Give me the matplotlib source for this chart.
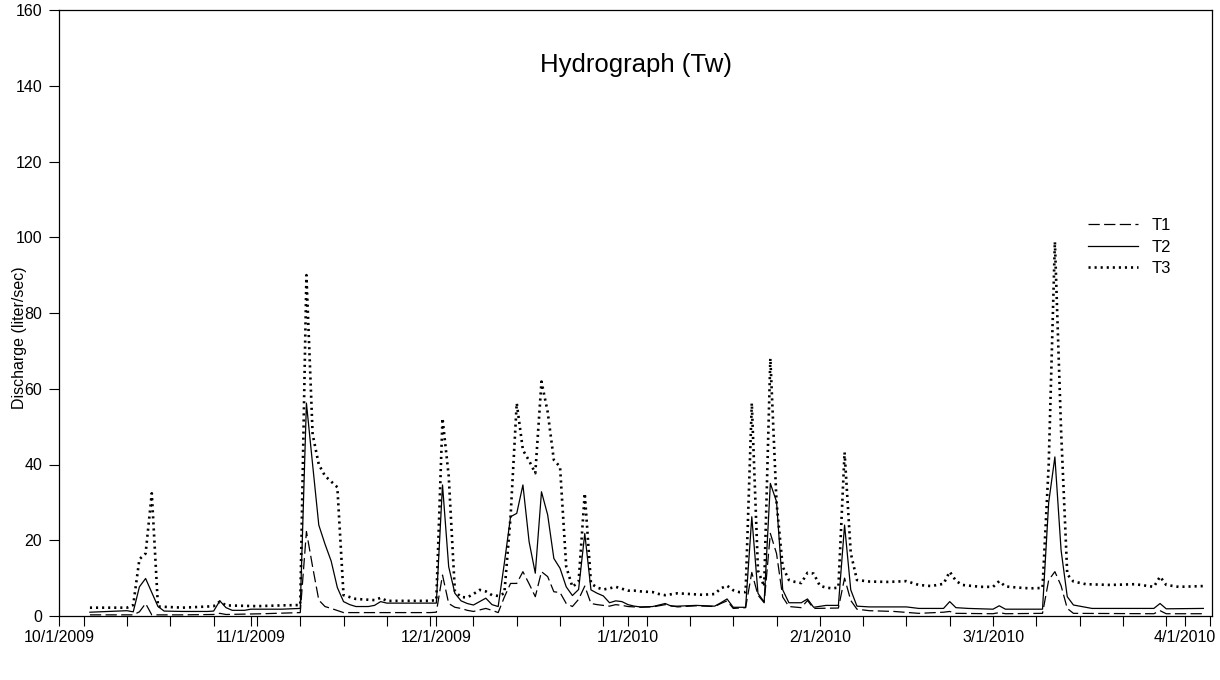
import matplotlib
matplotlib.use("Agg")
import matplotlib.pyplot as plt
import matplotlib.dates as mdates
import pandas as pd

plt.rcParams['font.family'] = ['Liberation Sans', 'DejaVu Sans']

START = pd.Timestamp('2009-10-01')

# Day offsets from 10/1/2009 and discharge values (liter/sec)
t1_days = [5, 12, 13, 14, 15, 20, 25, 26, 27, 33, 39, 40, 41, 42, 43, 44, 46, 60, 61, 62, 63, 64,
           65, 66, 67, 68, 69, 70, 71, 72, 73, 74, 75, 76, 77, 78, 79, 80, 81, 82, 83, 84, 85, 86,
           87, 88, 89, 90, 91, 92, 94, 96, 98, 100, 103, 106, 107, 108, 109, 111, 112, 113, 114,
           115, 116, 117, 118, 120, 121, 122, 126, 127, 128, 129, 131, 135, 139, 143, 144, 145,
           151, 152, 153, 159, 160, 161, 162, 163, 164, 177, 178, 179, 185]
t1_vals = [0.3, 0.3, 1.1, 3.3, 0.3, 0.3, 0.4, 0.7, 0.4, 0.6, 0.9, 22.3, 13.0, 4.2, 2.5, 2.0, 0.9,
           0.9, 1.0, 10.8, 3.3, 2.3, 2.0, 1.5, 1.2, 1.6, 2.0, 1.5, 0.9, 5.0, 8.6, 8.6, 11.7, 8.5,
           5.1, 11.7, 10.4, 6.4, 6.2, 3.3, 2.5, 4.4, 7.9, 3.3, 3.0, 2.8, 2.6, 3.0, 2.8, 2.5, 2.3,
           2.4, 3.0, 2.4, 2.7, 2.5, 3.3, 4.0, 2.0, 2.2, 11.5, 5.5, 3.5, 21.8, 16.5, 5.0, 2.5, 2.2,
           4.1, 2.0, 2.1, 10.0, 4.1, 1.8, 1.4, 1.2, 0.7, 1.0, 1.2, 0.7, 0.6, 0.9, 0.6, 0.7, 9.5,
           11.7, 8.0, 2.0, 0.7, 0.6, 1.4, 0.6, 0.6]

t2_days = [5, 11, 12, 13, 14, 15, 16, 17, 20, 24, 25, 26, 27, 28, 30, 31, 33, 36, 39, 40, 41, 42,
           43, 44, 45, 46, 47, 48, 50, 51, 52, 53, 60, 61, 62, 63, 64, 65, 66, 67, 68, 69, 70, 71,
           72, 73, 74, 75, 76, 77, 78, 79, 80, 81, 82, 83, 84, 85, 86, 87, 88, 89, 90, 91, 92, 93,
           94, 96, 98, 99, 100, 103, 106, 107, 108, 109, 111, 112, 113, 114, 115, 116, 117, 118,
           120, 121, 122, 124, 126, 127, 128, 129, 131, 134, 137, 139, 143, 144, 145, 147, 151,
           152, 153, 155, 159, 160, 161, 162, 163, 164, 167, 170, 174, 177, 178, 179, 185]
t2_vals = [1.0, 1.4, 1.1, 7.7, 9.9, 6.2, 2.5, 1.3, 1.2, 1.2, 1.3, 4.0, 2.2, 1.5, 1.5, 1.8, 1.8,
           1.8, 2.0, 56.2, 40.0, 24.0, 19.0, 14.5, 7.5, 3.8, 3.0, 2.5, 2.5, 2.8, 3.8, 3.4, 3.4,
           3.4, 34.6, 13.0, 6.0, 4.0, 3.3, 2.9, 3.8, 4.7, 3.0, 2.5, 14.0, 26.2, 27.1, 34.6, 19.6,
           11.3, 32.8, 26.7, 15.2, 12.6, 7.7, 5.4, 7.0, 21.8, 6.9, 6.0, 5.3, 3.5, 4.0, 3.8, 3.0,
           2.6, 2.4, 2.5, 3.3, 2.6, 2.6, 2.8, 2.6, 3.5, 4.5, 2.3, 2.3, 26.2, 6.0, 3.7, 35.0, 30.2,
           6.9, 3.5, 3.5, 4.5, 2.3, 2.8, 2.8, 24.0, 6.9, 2.6, 2.4, 2.4, 2.4, 2.0, 2.0, 3.8, 2.2,
           2.0, 1.8, 2.7, 1.8, 1.8, 1.8, 30.0, 42.0, 17.4, 5.1, 2.9, 2.0, 2.0, 2.0, 2.0, 3.3, 1.9,
           2.0]

t3_days = [5, 11, 12, 13, 14, 15, 16, 20, 24, 25, 26, 27, 32, 36, 39, 40, 41, 42, 43, 44, 45, 46,
           47, 48, 51, 52, 53, 60, 61, 62, 63, 64, 65, 66, 67, 68, 69, 70, 71, 72, 73, 74, 75, 76,
           77, 78, 79, 80, 81, 82, 83, 84, 85, 86, 87, 88, 89, 90, 91, 92, 93, 94, 95, 96, 97, 98,
           100, 102, 104, 106, 107, 108, 109, 110, 111, 112, 113, 114, 115, 116, 117, 118, 119,
           120, 121, 122, 123, 124, 125, 126, 127, 128, 129, 131, 134, 137, 139, 141, 143, 144,
           145, 146, 149, 151, 152, 153, 155, 157, 159, 160, 161, 162, 163, 164, 166, 170, 174,
           177, 178, 179, 181, 183, 185]
t3_vals = [2.2, 2.2, 2.9, 15.0, 16.5, 32.4, 2.5, 2.2, 2.5, 2.6, 3.8, 2.8, 2.6, 2.8, 2.9, 90.0,
           48.0, 40.0, 37.0, 35.5, 34.0, 5.5, 5.0, 4.5, 4.2, 4.8, 4.0, 4.0, 4.2, 52.2, 37.0, 6.5,
           5.0, 4.9, 5.8, 6.9, 6.5, 5.5, 5.3, 6.0, 26.2, 56.2, 43.8, 41.0, 37.7, 61.9, 53.9, 41.2,
           39.4, 13.0, 7.7, 9.0, 32.4, 8.6, 7.5, 7.0, 7.3, 7.7, 7.2, 6.7, 6.7, 6.5, 6.4, 6.3, 5.8,
           5.5, 6.0, 5.8, 5.6, 5.8, 7.3, 8.0, 6.8, 6.3, 6.3, 56.2, 12.0, 7.8, 68.0, 30.0, 13.0,
           9.5, 9.0, 8.7, 11.4, 11.2, 8.0, 7.5, 7.3, 7.5, 43.2, 16.6, 9.5, 9.1, 9.0, 9.2, 8.2, 7.9,
           8.5, 11.7, 9.3, 8.2, 7.7, 7.7, 9.2, 7.8, 7.5, 7.3, 7.4, 40.0, 98.8, 49.0, 11.0, 9.1,
           8.4, 8.2, 8.4, 7.7, 10.4, 8.2, 7.7, 7.8, 7.9]

labels = ['T1', 'T2', 'T3']
title = 'Hydrograph (Tw)'
ylabel = 'Discharge (liter/sec)'
y_ticks = [0, 20, 40, 60, 80, 100, 120, 140, 160]


def to_dates(days):
    return START + pd.to_timedelta(days, unit='D')


fig = plt.figure(figsize=(12.2, 6.8), dpi=100)
ax = fig.add_axes([59 / 1220, 1 - 616 / 680, (1212 - 59) / 1220, (616 - 10) / 680])

ax.plot(to_dates(t1_days), t1_vals, color='black', lw=0.9, linestyle=(0, (9, 3.5)), label=labels[0])
ax.plot(to_dates(t2_days), t2_vals, color='black', lw=0.9, linestyle='-', label=labels[1])
ax.plot(to_dates(t3_days), t3_vals, color='black', lw=1.9, linestyle=(0, (0.8, 1.5)), label=labels[2])

ax.set_ylim(0, 160)
ax.set_yticks(y_ticks)
ax.set_xlim(START, START + pd.Timedelta(days=186.4))

ax.xaxis.set_major_locator(mdates.MonthLocator())
ax.xaxis.set_major_formatter(mdates.DateFormatter('%-m/%-d/%Y'))
ax.xaxis.set_minor_locator(mdates.WeekdayLocator(byweekday=mdates.MO))

ax.tick_params(axis='both', which='both', direction='out', length=7, width=0.8, labelsize=11.5)
ax.tick_params(axis='x', which='major', pad=3)
ax.tick_params(axis='y', pad=5)
for s in ax.spines.values():
    s.set_linewidth(0.9)

ax.set_ylabel(ylabel, fontsize=11.5)
ax.yaxis.set_label_coords(-0.028, 0.46)

ax.text(0.5, 0.91, title, transform=ax.transAxes, ha='center', va='center', fontsize=18.5)

leg = ax.legend(loc='upper left', bbox_to_anchor=(0.8925, 0.657), frameon=False, fontsize=12,
                handlelength=3.0, handletextpad=0.8, labelspacing=0.4, borderpad=0,
                borderaxespad=0)

fig.savefig('out.png', dpi=100)
